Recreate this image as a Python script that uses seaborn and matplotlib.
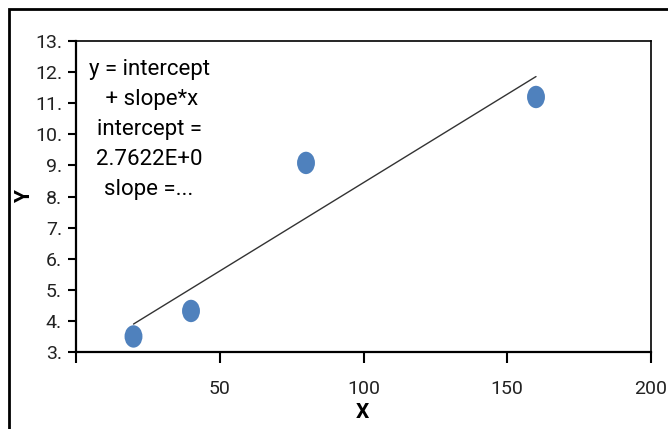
import numpy as np
import pandas as pd
import matplotlib
matplotlib.use("Agg")
import matplotlib.pyplot as plt
import seaborn as sns
from matplotlib.path import Path
from matplotlib.transforms import Affine2D
from matplotlib.patches import Rectangle

# data
x_vals = [20, 40, 80, 160]
y_vals = [3.5, 4.32, 9.08, 11.2]
x_ticks = [0, 50, 100, 150, 200]
x_tick_labels = ["", "50", "100", "150", "200"]
y_ticks = [3, 4, 5, 6, 7, 8, 9, 10, 11, 12, 13]
y_tick_labels = ["3.", "4.", "5.", "6.", "7.", "8.", "9.", "10.", "11.", "12.", "13."]
annotation_lines = ["y = intercept", " + slope*x", "intercept =", "2.7622E+0", "slope =..."]

df = pd.DataFrame({"X": x_vals, "Y": y_vals})

sns.set_style("white")
FONT = ["Roboto", "DejaVu Sans"]
plt.rcParams["font.family"] = FONT
plt.rcParams["text.color"] = "black"
plt.rcParams["axes.labelcolor"] = "black"
plt.rcParams["xtick.color"] = "black"
plt.rcParams["ytick.color"] = "black"

fig = plt.figure(figsize=(6.68, 4.29), dpi=100)
ax = fig.add_axes([76/668, 1-352/429, (651-76)/668, (352-41)/429])

# outer chart frame
fig.patches.append(Rectangle((9/668, -0.1), 1.2, 1-9/429+0.1, transform=fig.transFigure,
                             fill=False, edgecolor="black", linewidth=2.0))

sns.regplot(data=df, x="X", y="Y", ax=ax, scatter=False, ci=None, truncate=True,
            line_kws={"color": "#333333", "linewidth": 1.0})

ell = Path.unit_circle().transformed(Affine2D().scale(0.8, 1.0))
sns.scatterplot(data=df, x="X", y="Y", ax=ax, marker=ell, s=260, color="#4F81BD",
                edgecolor="none", zorder=3)

ax.set_xlim(0, 200)
ax.set_ylim(3, 13)
ax.set_xticks(x_ticks)
ax.set_xticklabels(x_tick_labels)
ax.set_yticks(y_ticks)
ax.set_yticklabels(y_tick_labels)
ax.tick_params(axis="x", bottom=True, direction="out", length=8, width=1.5, pad=12,
               labelsize=14, color="black", labelcolor="#222222")
ax.tick_params(axis="y", left=True, direction="out", length=6, width=1.5, pad=4,
               labelsize=14, color="black", labelcolor="#222222")
for s in ax.spines.values():
    s.set_visible(True)
    s.set_color("black")
ax.spines["left"].set_linewidth(1.6)
ax.spines["bottom"].set_linewidth(1.6)
ax.spines["top"].set_linewidth(1.2)
ax.spines["right"].set_linewidth(1.2)
ax.set_xlabel("X", fontsize=15, fontweight="bold")
ax.set_ylabel("Y", fontsize=15, fontweight="bold")
ax.xaxis.set_label_coords((362-76)/575, (352-413)/311)
ax.yaxis.set_label_coords((25-76)/575, 0.5)
ax.xaxis.label.set_va("center")
ax.yaxis.label.set_va("center")

ax.text(0.127, 0.943, "\n".join(annotation_lines), transform=ax.transAxes,
        ha="center", va="top", fontsize=16, linespacing=1.56, multialignment="center",
        color="black")

fig.savefig("out.png", dpi=100)
